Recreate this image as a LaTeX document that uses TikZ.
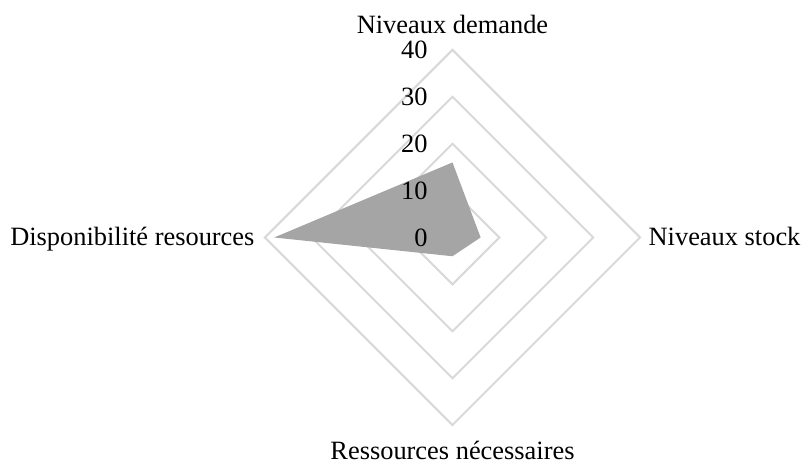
\documentclass[tikz,border=0pt]{standalone}
\usepackage{fontspec}
\setmainfont{Liberation Serif}
\usepackage{tikz}
\usetikzlibrary{positioning}

\definecolor{gridgray}{HTML}{D9D9D9}
\definecolor{areagray}{HTML}{A5A5A5}

\begin{document}
\begin{tikzpicture}[x=2.345pt,y=2.345pt,semithick,
    font=\fontsize{13.2}{15}\selectfont]
  \tikzstyle{ring}=[draw=gridgray,line width=1pt,line join=miter]
  \tikzstyle{tick}=[anchor=base east,inner sep=0pt]
  \tikzstyle{axis label}=[inner sep=0pt]

  \useasboundingbox (-96.48,-48.29) rectangle (74.95,50.64);

  % Centre and the four axis ends (value 40)
  \coordinate (o) at (0,0);
  \coordinate (dem) at (0,40);
  \coordinate (stk) at (40,0);
  \coordinate (nec) at (0,-40);
  \coordinate (dis) at (-40,0);

  % Grid rings 10, 20, 30, 40
  \draw[ring] (0,10) -- (10,0) -- (0,-10) -- (-10,0) -- cycle;
  \draw[ring] (0,20) -- (20,0) -- (0,-20) -- (-20,0) -- cycle;
  \draw[ring] (0,30) -- (30,0) -- (0,-30) -- (-30,0) -- cycle;
  \draw[ring] (dem) -- (stk) -- (nec) -- (dis) -- cycle;

  % Data area
  \fill[areagray] (0,16) -- (6,0) -- (0,-4) -- (-38,0) -- cycle;

  % Scale values
  \node[tick] (t0) at (-5.2,-1.9) {0};
  \node[tick] (t10) at (-5.2,8.1) {10};
  \node[tick] (t20) at (-5.2,18.1) {20};
  \node[tick] (t30) at (-5.2,28.1) {30};
  \node[tick] (t40) at (-5.2,38.1) {40};

  % Axis names
  \node[axis label,anchor=base] (ldem) at (0,43.6) {Niveaux demande};
  \node[axis label,anchor=base west] (lstk) at (41.7,-1.8) {Niveaux stock};
  \node[axis label,anchor=base] (lnec) at (0,-47.4) {Ressources nécessaires};
  \node[axis label,anchor=base east] (ldis) at (-42.1,-1.8) {Disponibilité resources};
\end{tikzpicture}
\end{document}
